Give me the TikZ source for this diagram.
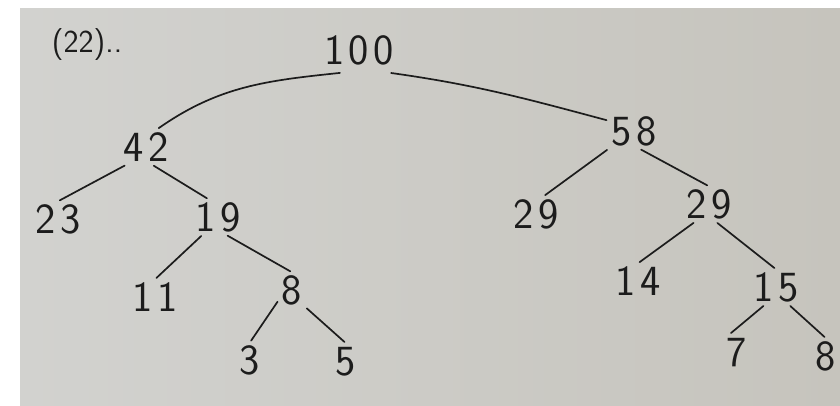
\documentclass[tikz,border=0pt]{standalone}
\usepackage{fontspec}
\newfontfamily\hand{Latin Modern Sans}[LetterSpace=10]
\definecolor{paperl}{RGB}{210,210,207}
\definecolor{paperr}{RGB}{198,196,189}
\definecolor{ink}{RGB}{28,28,28}
\begin{document}
\begin{tikzpicture}[
    x=1pt, y=-1pt,
    main/.style = {inner sep=3pt, text height=29pt, text depth=0pt, text=ink,
                   font=\hand\fontsize{43}{43}\selectfont},
    line/.style = {draw=ink, line width=1.7pt, line cap=round, shorten <=2pt, shorten >=2pt}
  ]
  \useasboundingbox (0,0) rectangle (840,405);
  \shade[left color=paperl, right color=paperr] (20,8) rectangle (840,405);

  \node[text=ink, font=\sffamily\fontsize{32}{32}\selectfont] (tag) at (87,45) {(22)..};

  \node[main, inner sep=8pt] (r) at (359,50) {100};
  \node[main] (n42) at (146,147) {42};
  \node[main] (n58) at (634,131) {58};
  \node[main] (n23) at (58,219) {23};
  \node[main] (n19) at (218,217) {19};
  \node[main] (n29a) at (536,214) {29};
  \node[main] (n29b) at (709,204) {29};
  \node[main] (n11) at (155,297) {11};
  \node[main] (n8a) at (292,290) {8};
  \node[main] (n14) at (638,281) {14};
  \node[main] (n15) at (776,287) {15};
  \node[main] (n3) at (250,360) {3};
  \node[main] (n5) at (346,361) {5};
  \node[main] (n7) at (737,352) {7};
  \node[main] (n8b) at (826,356) {8};

  \draw[line] (r.233) to[out=186,in=35] (n42.58);
  \draw[line] (r.-37) to[out=-8,in=165] (n58.158);
  \draw[line] (n42.222) -- (n23.north);
  \draw[line] (n42.-71) -- (n19.118);
  \draw[line] (n19.229) -- (n11.north);
  \draw[line] (n19.-66) -- (n8a.north);
  \draw[line] (n8a.217) -- (n3.north);
  \draw[line] (n8a.-52) -- (n5.north);
  \draw[line] (n58.215) -- (n29a.67);
  \draw[line] (n58.-73) -- (n29b.north);
  \draw[line] (n29b.232) -- (n14.north);
  \draw[line] (n29b.-69) -- (n15.north);
  \draw[line] (n15.238) -- (n7.113);
  \draw[line] (n15.-54) -- (n8b.north);
\end{tikzpicture}
\end{document}
